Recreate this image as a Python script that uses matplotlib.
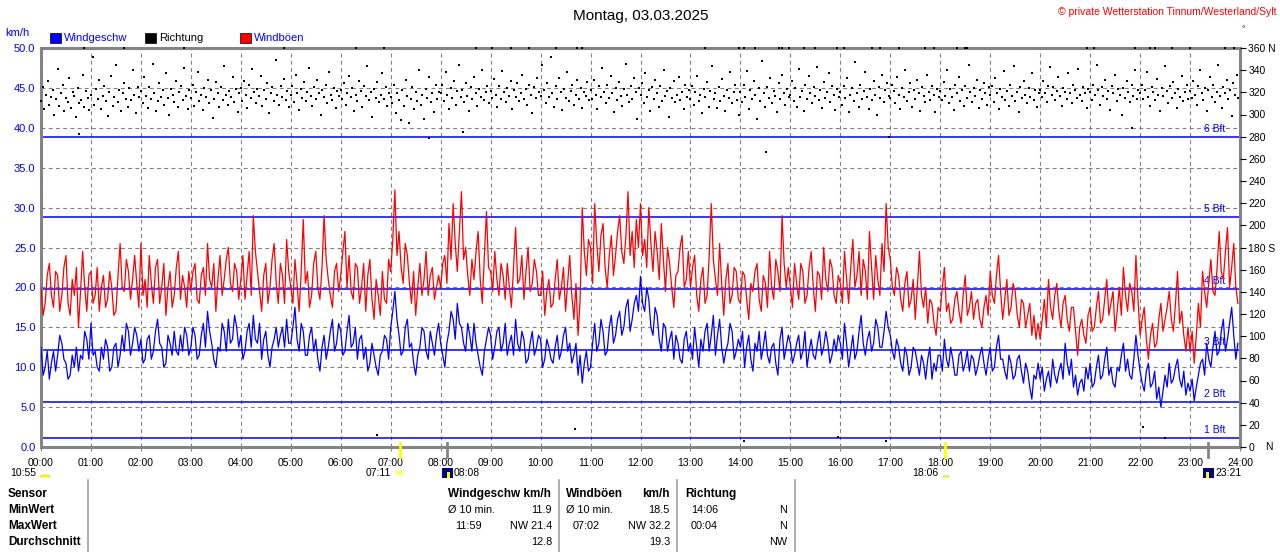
import numpy as np
import matplotlib.pyplot as plt
from matplotlib.patches import Rectangle, Wedge, Circle

W, H = 1280, 552
plt.rcParams['font.family'] = ['Liberation Sans', 'DejaVu Sans']

title = 'Montag, 03.03.2025'
credit = '\u00a9 private Wetterstation Tinnum/Westerland/Sylt'

# wind speed km/h at hh:00, hh:05, ... (one row per hour)
speed = [
    12.5, 10.0, 8.5, 12.0, 11.5, 13.0, 10.5, 9.0, 10.0, 9.5, 11.0, 13.5,
    15.5, 12.0, 9.5, 11.0, 12.5, 10.0, 13.0, 11.5, 12.0, 14.5, 13.0, 14.0,
    13.5, 11.0, 14.0, 12.0, 16.0, 12.5, 10.5, 13.0, 14.5, 11.5, 12.0, 14.0,
    12.5, 14.0, 11.5, 15.5, 17.0, 13.0, 10.0, 12.0, 14.5, 16.0, 13.5, 15.0,
    14.0, 12.0, 15.5, 16.5, 13.0, 11.0, 14.5, 10.0, 13.5, 12.5, 15.0, 16.0,
    13.0, 17.5, 12.0, 14.5, 11.5, 15.0, 13.5, 9.5, 14.0, 12.5, 16.0, 13.0,
    14.5, 12.0, 16.5, 13.0, 11.0, 14.0, 12.5, 10.5, 11.5, 9.0, 12.0, 13.5,
    15.0, 19.5, 14.0, 12.0, 16.0, 13.0, 9.0, 12.5, 14.5, 11.0, 13.0, 14.0,
    13.0, 10.0, 14.5, 16.0, 18.0, 15.0, 12.0, 14.0, 15.5, 11.5, 9.0, 13.5,
    14.0, 12.5, 15.0, 13.0, 11.5, 14.0, 16.0, 12.0, 13.5, 11.0, 14.5, 12.5,
    13.5, 11.0, 12.5, 10.5, 14.0, 12.0, 15.0, 13.0, 11.5, 9.0, 8.0, 12.0,
    10.0, 15.5, 13.0, 14.5, 12.0, 16.5, 14.0, 17.0, 15.0, 18.5, 16.0, 19.0,
    21.4, 17.0, 18.5, 14.0, 16.5, 12.0, 15.0, 13.5, 11.0, 13.0, 10.5, 14.5,
    13.0, 15.0, 10.0, 12.0, 15.5, 14.0, 11.5, 16.0, 10.5, 13.0, 14.5, 12.0,
    12.5, 10.0, 14.0, 9.5, 12.0, 11.0, 14.5, 10.5, 13.0, 9.0, 15.0, 12.5,
    13.0, 11.5, 14.0, 12.0, 10.0, 13.5, 11.0, 14.5, 12.5, 13.0, 11.5, 12.0,
    13.0, 15.5, 10.0, 14.0, 12.0, 16.5, 11.5, 14.5, 13.0, 15.0, 12.5, 17.0,
    14.0, 11.0, 12.5, 9.5, 11.5, 10.0, 12.0, 9.0, 10.5, 11.0, 8.5, 9.5,
    11.5, 13.5, 10.0, 11.0, 9.0, 12.0, 10.5, 9.5, 11.0, 10.0, 12.5, 9.0,
    12.5, 10.0, 14.0, 11.0, 8.5, 10.5, 9.0, 11.5, 8.0, 9.5, 6.0, 8.5,
    8.5, 7.0, 9.5, 11.0, 8.0, 10.5, 13.0, 9.0, 7.5, 6.5, 8.5, 10.0,
    10.5, 8.0, 11.5, 9.0, 12.5, 10.0, 7.5, 9.5, 13.0, 11.0, 8.5, 14.0,
    9.5, 7.0, 10.5, 8.0, 6.0, 5.0, 9.0, 10.5, 8.5, 11.0, 7.5, 6.5,
    7.0, 5.8, 9.0, 11.0, 13.0, 10.0, 14.5, 12.0, 16.0, 13.5, 17.5, 11.0,
]
# wind speed at hh:02:30, hh:07:30, ...
speed_mid = [
    9.0, 12.0, 10.5, 9.5, 14.0, 11.0, 8.5, 11.5, 12.5, 11.5, 14.5, 11.0,
    11.5, 10.0, 12.5, 13.5, 9.5, 12.5, 10.0, 14.0, 15.5, 11.5, 15.0, 12.0,
    10.5, 13.5, 11.0, 14.5, 13.0, 10.0, 14.0, 11.5, 12.0, 14.0, 15.0, 11.5,
    15.0, 11.0, 14.0, 12.5, 14.5, 11.0, 12.5, 15.5, 12.0, 13.0, 16.5, 12.5,
    11.0, 14.5, 12.5, 13.5, 15.5, 13.5, 11.5, 12.5, 15.0, 14.0, 12.5, 13.0,
    15.0, 13.5, 15.5, 11.5, 14.0, 12.0, 11.0, 12.5, 11.0, 14.5, 12.0, 15.5,
    11.5, 14.5, 12.5, 15.0, 13.5, 11.0, 9.5, 13.0, 10.0, 11.5, 14.0, 11.0,
    17.0, 16.0, 11.5, 15.0, 12.5, 10.5, 11.5, 15.0, 12.0, 14.5, 11.5, 15.5,
    11.5, 13.0, 17.0, 13.5, 15.5, 13.0, 15.5, 12.0, 13.0, 10.0, 12.0, 15.0,
    11.0, 14.5, 12.0, 15.5, 13.0, 11.5, 13.0, 14.5, 10.5, 13.0, 11.5, 14.0,
    10.0, 13.5, 11.0, 12.5, 11.0, 14.0, 12.0, 10.5, 13.0, 11.5, 10.5, 9.5,
    13.0, 12.0, 16.0, 11.5, 15.0, 13.0, 16.0, 14.0, 17.5, 14.5, 18.0, 17.0,
    18.0, 20.0, 15.0, 17.5, 13.5, 15.5, 12.0, 14.5, 14.0, 11.0, 13.5, 12.0,
    11.0, 12.5, 13.5, 14.5, 12.0, 16.5, 14.0, 12.5, 12.0, 15.5, 11.0, 13.5,
    14.5, 12.5, 11.0, 13.0, 14.5, 12.5, 11.5, 12.5, 10.5, 13.5, 11.0, 14.0,
    10.5, 13.0, 11.0, 14.5, 12.0, 11.5, 13.0, 11.5, 14.5, 10.5, 13.5, 14.0,
    11.0, 13.0, 12.0, 11.0, 14.5, 13.0, 13.5, 12.0, 16.0, 12.5, 14.5, 15.0,
    12.0, 13.5, 10.5, 12.5, 9.0, 12.5, 10.5, 11.5, 8.5, 12.5, 10.5, 11.5,
    9.5, 11.0, 12.5, 9.0, 11.5, 9.5, 12.0, 11.5, 9.0, 11.5, 10.5, 11.0,
    9.5, 12.5, 11.0, 9.5, 11.5, 8.5, 11.0, 9.5, 10.5, 7.5, 9.0, 10.5,
    10.0, 8.5, 7.5, 9.0, 9.5, 8.5, 10.5, 11.0, 9.0, 8.0, 7.0, 8.5,
    7.5, 10.0, 8.5, 11.0, 9.0, 8.0, 10.0, 11.5, 9.5, 9.0, 11.0, 11.5,
    8.0, 9.5, 7.5, 9.5, 7.5, 7.0, 7.5, 8.0, 10.0, 8.5, 9.5, 8.0,
    8.5, 7.5, 10.5, 9.0, 11.0, 12.5, 11.5, 14.5, 12.0, 15.5, 14.0, 13.0,
]

# gusts km/h at hh:00, hh:05, ...
gust = [
    20.0, 18.0, 23.0, 17.5, 21.5, 19.0, 24.0, 16.5, 19.0, 15.0, 24.5, 17.0,
    22.0, 19.0, 17.0, 21.5, 18.5, 20.0, 17.0, 25.5, 19.5, 22.0, 21.0, 20.5,
    25.5, 21.0, 24.0, 18.0, 23.5, 20.0, 16.5, 22.0, 19.0, 24.5, 21.5, 17.5,
    19.5, 23.0, 18.0, 22.5, 25.5, 20.0, 17.0, 24.0, 21.0, 25.0, 19.5, 22.0,
    21.0, 18.5, 24.5, 29.0, 22.0, 17.0, 23.0, 20.0, 25.5, 18.0, 21.5, 26.0,
    20.0, 23.5, 17.0, 28.5, 22.0, 19.0, 24.5, 18.5, 29.0, 21.0, 17.5, 23.0,
    21.5, 27.0, 24.0, 18.5, 22.5, 20.0, 17.0, 23.5, 16.0, 19.0, 22.0, 18.0,
    22.0, 32.2, 27.0, 20.5, 24.0, 18.0, 16.5, 23.0, 21.0, 19.0, 22.5, 20.0,
    20.0, 24.0, 28.0, 30.5, 22.0, 32.0, 25.0, 19.0, 21.0, 27.0, 18.0, 29.5,
    22.0, 24.5, 19.0, 21.5, 23.0, 17.5, 27.5, 21.0, 18.5, 25.0, 20.5, 22.0,
    19.0, 16.5, 21.0, 18.0, 23.5, 20.0, 17.0, 24.0, 16.0, 14.0, 30.0, 21.5,
    25.0, 30.5, 22.0, 28.0, 20.0, 26.5, 24.0, 29.0, 23.0, 32.0, 27.0, 28.5,
    30.5, 26.0, 30.0, 22.0, 24.5, 28.0, 19.5, 23.0, 17.5, 22.0, 26.5, 21.0,
    20.0, 24.0, 17.0, 22.5, 19.0, 30.5, 21.0, 25.5, 16.5, 23.0, 19.0, 22.0,
    18.0, 21.5, 16.0, 19.5, 23.0, 17.0, 20.5, 24.5, 18.5, 22.0, 29.0, 20.0,
    20.0, 23.0, 18.5, 22.0, 19.0, 24.5, 17.0, 21.5, 25.0, 19.5, 22.5, 18.0,
    20.5, 24.5, 18.0, 26.0, 21.5, 19.0, 22.0, 27.0, 18.5, 21.0, 25.5, 30.5,
    23.5, 19.0, 21.5, 17.0, 22.0, 18.5, 16.0, 24.5, 17.5, 15.5, 18.0, 14.0,
    17.0, 22.5, 18.0, 16.0, 19.5, 15.5, 21.5, 17.5, 16.0, 18.5, 15.0, 19.0,
    22.0, 18.0, 24.0, 16.0, 21.0, 17.5, 19.5, 15.0, 18.0, 16.5, 14.0, 13.5,
    13.5, 18.5, 21.0, 16.0, 20.5, 15.0, 19.0, 14.5, 17.5, 11.5, 16.0, 13.0,
    17.5, 15.0, 19.5, 16.0, 21.0, 18.0, 14.5, 20.0, 22.5, 17.0, 19.5, 24.0,
    14.0, 17.5, 11.0, 15.5, 13.0, 18.0, 16.0, 19.5, 14.5, 22.0, 17.0, 12.0,
    12.0, 10.5, 18.0, 22.0, 17.5, 23.5, 19.0, 27.0, 21.0, 27.5, 22.5, 20.0,
]
# gusts at hh:02:30, hh:07:30, ...
gust_mid = [
    16.5, 21.5, 19.0, 22.0, 17.0, 22.5, 18.0, 21.0, 22.5, 19.5, 20.0, 21.5,
    18.0, 22.5, 20.0, 17.5, 22.0, 16.5, 21.5, 20.0, 23.5, 18.5, 24.0, 17.5,
    19.0, 17.5, 20.5, 22.5, 18.0, 23.0, 20.0, 17.5, 22.5, 18.5, 20.0, 22.0,
    22.0, 18.5, 21.5, 19.0, 21.0, 23.0, 21.0, 19.0, 23.5, 20.5, 23.0, 18.5,
    24.0, 21.5, 19.0, 24.5, 19.5, 21.5, 18.0, 23.5, 20.5, 23.0, 18.0, 22.0,
    18.0, 20.5, 22.0, 20.5, 17.5, 23.0, 20.0, 22.5, 23.5, 19.0, 22.0, 19.5,
    24.5, 20.0, 19.5, 23.0, 18.0, 23.0, 21.5, 18.5, 21.0, 16.5, 18.5, 23.5,
    26.0, 24.0, 22.5, 25.5, 20.5, 22.0, 20.0, 19.0, 24.5, 21.5, 18.5, 21.5,
    23.0, 20.5, 23.5, 25.5, 27.0, 23.5, 21.5, 23.5, 24.5, 21.0, 24.0, 22.5,
    19.5, 21.0, 23.0, 18.5, 20.0, 22.5, 20.5, 24.0, 22.0, 19.5, 23.5, 19.0,
    22.0, 19.5, 17.5, 21.0, 18.5, 22.5, 20.5, 19.0, 20.5, 18.5, 24.5, 26.0,
    20.5, 25.5, 26.5, 22.5, 24.0, 21.5, 27.0, 24.5, 26.5, 24.0, 22.5, 25.0,
    24.0, 22.5, 25.5, 27.0, 21.0, 23.5, 25.0, 20.0, 21.5, 25.0, 20.0, 24.5,
    22.5, 19.0, 21.0, 18.0, 24.0, 23.5, 19.0, 20.5, 21.0, 18.0, 22.5, 18.5,
    22.0, 18.5, 20.5, 22.0, 18.5, 21.5, 17.5, 20.0, 23.5, 19.5, 23.0, 22.5,
    17.5, 20.5, 23.0, 18.0, 22.5, 20.0, 22.0, 18.5, 21.0, 23.5, 19.0, 21.5,
    18.0, 21.0, 22.5, 20.0, 24.5, 23.5, 18.5, 22.5, 24.0, 19.0, 22.0, 25.0,
    20.0, 22.5, 18.5, 20.5, 17.5, 21.0, 20.0, 19.0, 20.0, 18.5, 15.5, 17.5,
    20.0, 17.0, 15.5, 18.5, 17.0, 19.0, 16.5, 19.5, 18.0, 16.0, 17.5, 16.5,
    19.0, 21.5, 19.5, 18.5, 16.5, 20.5, 16.5, 18.5, 15.0, 18.0, 16.5, 15.5,
    16.0, 15.0, 17.5, 19.0, 17.0, 18.0, 16.0, 17.5, 14.5, 15.0, 14.0, 16.5,
    14.5, 17.5, 15.5, 18.5, 16.5, 19.5, 17.0, 16.5, 19.0, 20.5, 17.0, 18.5,
    16.0, 13.5, 14.0, 12.5, 16.0, 14.5, 17.5, 16.0, 18.0, 15.5, 14.0, 15.0,
    14.5, 14.0, 15.0, 19.5, 20.5, 19.5, 22.5, 22.0, 24.5, 20.0, 25.5, 18.0,
]

# wind direction in degrees, one value per 2 minutes
direction = [
    312, 325, 305, 318, 330, 309, 316, 322, 300, 314, 341, 308, 319, 327, 303, 315, 311, 333, 306, 320, 317, 298, 324, 310, 313, 336, 307, 321, 315, 304,
    318, 352, 309, 323, 314, 331, 305, 317, 326, 312, 299, 320, 335, 308, 316, 345, 311, 322, 303, 319, 328, 314, 307, 324, 313, 340, 318, 301, 325, 316,
    321, 310, 334, 317, 306, 325, 314, 346, 319, 303, 312, 328, 316, 322, 309, 337, 315, 300, 323, 318, 311, 330, 307, 320, 326, 313, 342, 317, 305, 322,
    315, 327, 308, 320, 338, 312, 318, 304, 324, 316, 331, 310, 322, 297, 314, 329, 319, 307, 325, 313, 344, 318, 309, 321, 316, 334, 311, 323, 302, 319,
    324, 312, 330, 318, 306, 327, 315, 341, 320, 310, 323, 317, 335, 308, 322, 314, 328, 301, 319, 325, 312, 349, 318, 309, 326, 316, 332, 313, 321, 307,
    318, 326, 311, 336, 319, 304, 323, 315, 329, 312, 320, 342, 317, 308, 325, 314, 331, 319, 300, 322, 316, 327, 310, 338, 318, 313, 324, 306, 321, 317,
    322, 314, 328, 309, 319, 335, 316, 324, 303, 318, 312, 330, 321, 307, 326, 317, 344, 313, 320, 298, 323, 315, 329, 311, 318, 337, 314, 325, 308, 319,
    316, 310, 327, 301, 319, 313, 295, 322, 308, 331, 317, 292, 314, 325, 305, 320, 312, 340, 309, 318, 296, 323, 315, 334, 311, 319, 302, 327, 314, 320,
    319, 327, 312, 338, 318, 305, 324, 315, 330, 309, 321, 345, 316, 322, 311, 328, 317, 303, 325, 314, 334, 319, 308, 323, 316, 340, 313, 320, 326, 310,
    321, 315, 332, 318, 307, 326, 314, 339, 320, 311, 324, 317, 330, 305, 322, 316, 328, 312, 319, 336, 314, 323, 309, 327, 318, 301, 325, 315, 333, 320,
    317, 345, 322, 310, 328, 316, 352, 319, 307, 326, 314, 333, 320, 304, 323, 315, 338, 312, 321, 327, 309, 318, 331, 314, 324, 306, 320, 317, 329, 313,
    322, 314, 331, 318, 305, 326, 316, 342, 320, 310, 327, 315, 335, 319, 302, 324, 313, 329, 317, 308, 323, 346, 318, 311, 326, 314, 333, 320, 296, 324,
    318, 328, 310, 337, 316, 322, 303, 325, 314, 331, 319, 307, 326, 312, 340, 317, 321, 298, 324, 315, 330, 311, 318, 334, 313, 320, 305, 327, 316, 322,
    314, 326, 309, 320, 335, 312, 318, 301, 323, 316, 329, 307, 321, 344, 314, 319, 306, 325, 312, 332, 317, 303, 322, 315, 338, 310, 320, 327, 313, 300,
    320, 311, 327, 316, 339, 305, 322, 314, 330, 318, 296, 324, 312, 348, 319, 307, 325, 315, 333, 310, 321, 317, 302, 328, 314, 336, 319, 309, 323, 316,
    318, 330, 312, 324, 307, 341, 316, 321, 303, 327, 314, 335, 319, 310, 325, 317, 343, 313, 322, 306, 329, 315, 320, 337, 311, 326, 318, 304, 323, 316,
    320, 309, 326, 315, 333, 302, 318, 324, 312, 347, 319, 307, 327, 314, 321, 338, 316, 305, 323, 313, 330, 318, 300, 325, 315, 336, 311, 322, 328, 317,
    315, 327, 321, 310, 334, 318, 305, 324, 316, 340, 312, 320, 328, 307, 322, 314, 331, 319, 303, 325, 317, 311, 336, 320, 313, 326, 318, 302, 323, 316,
    321, 313, 329, 317, 340, 310, 323, 316, 304, 327, 319, 334, 312, 322, 308, 326, 315, 345, 320, 311, 324, 317, 331, 306, 322, 314, 328, 319, 309, 325,
    318, 326, 311, 333, 319, 305, 323, 316, 339, 313, 321, 308, 327, 317, 344, 312, 320, 302, 325, 315, 330, 318, 310, 324, 316, 337, 313, 322, 307, 319,
    322, 316, 330, 319, 311, 326, 343, 318, 325, 313, 321, 334, 317, 308, 324, 320, 314, 337, 319, 310, 327, 322, 315, 341, 318, 312, 325, 319, 306, 323,
    320, 313, 327, 318, 345, 322, 309, 325, 317, 331, 314, 321, 304, 326, 319, 336, 312, 323, 318, 300, 324, 315, 330, 320, 311, 327, 317, 340, 314, 322,
    319, 327, 314, 322, 338, 316, 308, 325, 320, 313, 332, 318, 303, 324, 317, 344, 321, 310, 326, 315, 329, 319, 306, 323, 316, 335, 312, 320, 327, 314,
    321, 315, 330, 318, 309, 326, 340, 319, 313, 324, 303, 322, 334, 316, 327, 311, 320, 345, 317, 306, 325, 319, 331, 314, 322, 299, 328, 318, 336, 315,
]

# readings exactly north (drawn at 360 on the top edge)
north_times = [0.87, 1.67, 2.87, 4.87, 6.30, 6.87, 8.70, 9.03, 9.40, 9.77, 10.30, 10.73,
               10.83, 13.30, 13.97, 14.07, 14.30, 14.77, 14.83, 14.97, 15.27, 15.50,
               15.93, 16.07, 16.63, 16.80, 17.17, 17.70, 17.87, 18.33, 18.50, 18.53,
               20.93, 21.07, 21.90, 22.20, 22.30, 22.63, 23.00, 23.70, 23.87]

# isolated readings away from the main band
odd_times = [0.77, 6.73, 7.77, 8.45, 10.68, 14.08, 14.52, 15.95, 16.92, 16.97, 21.83, 22.05, 22.50]
odd_dirs = [282, 11, 279, 284, 16, 5, 266, 9, 5, 280, 288, 18, 8]

bft_levels = [1.1, 5.7, 12.2, 19.8, 28.8, 38.9]
bft_names = ['1 Bft', '2 Bft', '3 Bft', '4 Bft', '5 Bft', '6 Bft']

hours = list(range(25))
hour_labels = ['%02d:00' % h for h in hours]
dir_ticks = list(range(0, 361, 20))
dir_labels = [str(d) for d in dir_ticks]
dir_labels[-1] = '360 N'
dir_labels[9] = '180 S'

row_labels = ['Sensor', 'MinWert', 'MaxWert', 'Durchschnitt']

BLUE = '#0000ff'
RED = '#ff0000'
GREY = '#848484'


def fx(x):
    return x / W


def fy(y):
    return 1 - y / H


fig = plt.figure(figsize=(12.8, 5.52), dpi=100)
ax = fig.add_axes([fx(41), fy(447), 1199 / W, 399 / H])
ax.set_xlim(0, 24)
ax.set_ylim(0, 50)

# interleave the 5 minute and the in-between readings
t_fine = np.arange(2 * len(speed)) * 2.5 / 60
speed_all = np.column_stack([speed, speed_mid]).ravel()
gust_all = np.column_stack([gust, gust_mid]).ravel()
ax.plot(t_fine, gust_all, color=RED, lw=0.9, zorder=3)
ax.plot(t_fine, speed_all, color=BLUE, lw=0.9, zorder=4)

for lev, name in zip(bft_levels, bft_names):
    ax.axhline(lev, color=BLUE, lw=1.1, zorder=2)
    ax.text(23.7, lev + 0.35, name, color=BLUE, fontsize=7.5, ha='right', va='bottom', zorder=2)

ax.set_xticks(hours)
ax.set_xticklabels(hour_labels)
ax.set_yticks(np.arange(0, 51, 5))
ax.set_yticklabels(['%.1f' % v for v in np.arange(0, 51, 5)])
ax.grid(color='#808080', ls=(0, (3.5, 3)), lw=0.8, zorder=1)
ax.tick_params(axis='x', length=3, color=GREY, pad=5, labelsize=7.5)
ax.tick_params(axis='y', length=0, pad=4, labelsize=8, labelcolor=BLUE)
for sp in ax.spines.values():
    sp.set_color(GREY)
    sp.set_linewidth(2.2)

ax2 = ax.twinx()
ax2.set_ylim(0, 360)
ax2.set_yticks(dir_ticks)
ax2.set_yticklabels(dir_labels)
ax2.tick_params(axis='y', length=4, pad=2, labelsize=7.5, color='black')
for sp in ax2.spines.values():
    sp.set_visible(False)
t2 = np.arange(len(direction)) * 2 / 60
ax2.plot(t2, direction, ls='none', marker='s', ms=1.7, mew=0, color='black', clip_on=False)
ax2.plot(north_times, [360] * len(north_times), ls='none', marker='s', ms=1.7, mew=0,
         color='black', clip_on=False)
ax2.plot(odd_times, odd_dirs, ls='none', marker='s', ms=1.7, mew=0, color='black')
fig.text(fx(1265), fy(447), 'N', fontsize=7.5, va='center')

# sunrise / sunset and moon markers on the time axis
for t, c in [(7 + 11 / 60, '#ffff00'), (18 + 6 / 60, '#ffff00'),
             (8 + 8 / 60, GREY), (23 + 21 / 60, GREY)]:
    ax.axvline(t, ymin=-0.025, ymax=0.01, color=c, lw=2, clip_on=False, zorder=5)

# header texts
fig.text(fx(641), fy(16), title, fontsize=11, ha='center', va='center')
fig.text(fx(1277), fy(12), credit, fontsize=7.5, color=RED, ha='right', va='center')
fig.text(fx(1243), fy(30), '\u00b0', fontsize=6, ha='center', va='center')
fig.text(fx(5), fy(33), 'km/h', fontsize=8, color=BLUE, va='center')

legend_items = [(50, BLUE, 'Windgeschw', BLUE), (145, 'black', 'Richtung', 'black'),
                (240, RED, 'Windb\u00f6en', BLUE)]
for x0, fc, label, tc in legend_items:
    fig.add_artist(Rectangle((fx(x0), fy(43)), 11 / W, 10 / H, transform=fig.transFigure,
                             facecolor=fc, edgecolor='black', lw=0.5))
    fig.text(fx(x0 + 14), fy(38), label, fontsize=8, color=tc, va='center')

# astro row
fig.text(fx(10), fy(473), '10:55', fontsize=7.5, va='center')
fig.add_artist(Wedge((fx(45), fy(477)), 5 / W, 0, 180, transform=fig.transFigure,
                     facecolor='#ffff00', edgecolor='#e0e000', lw=0.5))
fig.text(fx(366), fy(473), '07:11', fontsize=7.5, va='center')
fig.add_artist(Circle((fx(399.5), fy(473)), 3.5 / W, transform=fig.transFigure,
                      facecolor='#ffff00', edgecolor='#ffff80', lw=1.5))
fig.add_artist(Rectangle((fx(442), fy(478)), 11 / W, 10 / H, transform=fig.transFigure,
                         facecolor='#000080', edgecolor='none'))
fig.add_artist(Rectangle((fx(447), fy(478)), 3 / W, 6 / H, transform=fig.transFigure,
                         facecolor='#ffff00', edgecolor='none'))
fig.text(fx(454), fy(473), '08:08', fontsize=7.5, va='center')
fig.text(fx(912), fy(473), '18:06', fontsize=7.5, va='center')
fig.add_artist(Wedge((fx(946), fy(477)), 3 / W, 0, 180, transform=fig.transFigure,
                     facecolor='#ffff00', edgecolor='#e0e000', lw=0.5))
fig.add_artist(Rectangle((fx(1203), fy(478)), 11 / W, 10 / H, transform=fig.transFigure,
                         facecolor='#000080', edgecolor='none'))
fig.add_artist(Rectangle((fx(1206), fy(478)), 3 / W, 6 / H, transform=fig.transFigure,
                         facecolor='#ffff00', edgecolor='none'))
fig.text(fx(1215), fy(473), '23:21', fontsize=7.5, va='center')

# statistics table
row_y = [494, 510, 526, 542]
for y, lab in zip(row_y, row_labels):
    fig.text(fx(8), fy(y), lab, fontsize=8.5, fontweight='bold', va='center')
for x in [88, 559, 677, 795]:
    fig.add_artist(plt.Line2D([fx(x), fx(x)], [fy(480), fy(552)], color='#a0a0a0', lw=1.2,
                              transform=fig.transFigure))

cells = [
    (448, 494, 'Windgeschw km/h', 'left', True),
    (448, 510, '\u00d8 10 min.', 'left', False),
    (552, 510, '11.9', 'right', False),
    (455, 526, '11:59', 'left', False),
    (552, 526, 'NW 21.4', 'right', False),
    (552, 542, '12.8', 'right', False),
    (566, 494, 'Windb\u00f6en', 'left', True),
    (670, 494, 'km/h', 'right', True),
    (566, 510, '\u00d8 10 min.', 'left', False),
    (670, 510, '18.5', 'right', False),
    (573, 526, '07:02', 'left', False),
    (670, 526, 'NW 32.2', 'right', False),
    (670, 542, '19.3', 'right', False),
    (685, 494, 'Richtung', 'left', True),
    (691, 510, '14:06', 'left', False),
    (787, 510, 'N', 'right', False),
    (691, 526, '00:04', 'left', False),
    (787, 526, 'N', 'right', False),
    (787, 542, 'NW', 'right', False),
]
for x, y, s, ha, bold in cells:
    fig.text(fx(x), fy(y), s, fontsize=8.5 if bold else 7.8,
             fontweight='bold' if bold else 'normal', ha=ha, va='center')

fig.savefig('out.png', dpi=100)
